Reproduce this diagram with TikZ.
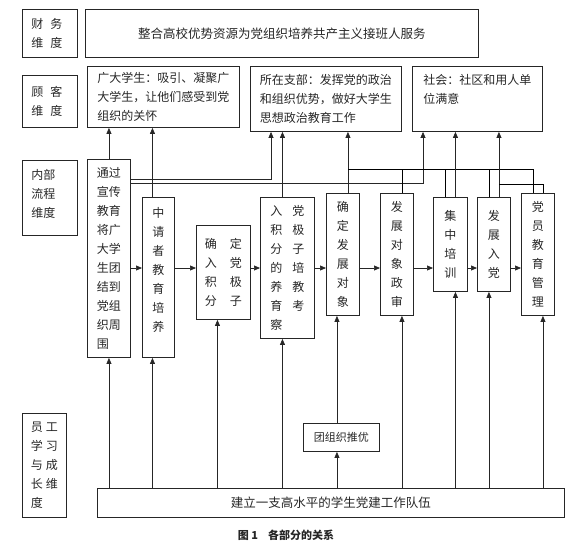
\documentclass[tikz,border=0pt]{standalone}
\usepackage{fontspec}
\setmainfont{Noto Sans CJK SC}
\usetikzlibrary{positioning,arrows.meta}

\begin{document}
\begin{tikzpicture}[
    x=1pt, y=-1pt,
    font=\fontsize{12}{19}\selectfont,
    box/.style={draw=black!85, line width=0.9pt, inner sep=0pt, align=center, text=black!85},
    dimbox/.style={box, align=left, inner xsep=9pt},
    line/.style={-{Triangle[length=6pt,width=5pt]}, line width=0.7pt, draw=black!85}
  ]
  \useasboundingbox (0,0) rectangle (585,549);

  % left column: the four dimensions
  \node[dimbox, anchor=north west, text width=37, minimum height=48] (caiwu) at (22,9) {财\hspace{7pt}务\\维\hspace{7pt}度};
  \node[dimbox, anchor=north west, text width=37, minimum height=52] (guke) at (22,75) {顾\hspace{7pt}客\\维\hspace{7pt}度};
  \node[dimbox, anchor=north west, text width=37, minimum height=75, text depth=47] (neibu) at (22,160) {内部\\流程\\维度};
  \node[dimbox, anchor=north west, text width=27, inner xsep=8.5pt, minimum height=104] (yuangong) at (22,413) {员\hspace{3pt}工\\学\hspace{3pt}习\\与\hspace{3pt}成\\长\hspace{3pt}维\\度};

  % finance and customers
  \node[box, anchor=north west, minimum width=393, minimum height=48, font=\fontsize{12.5}{19}\selectfont] (mubiao) at (85,9) {整合高校优势资源为党组织培养共产主义接班人服务};
  \node[box, align=left, anchor=north west, minimum width=152, minimum height=61] (xuesheng) at (87,66) {广大学生：吸引、凝聚广\\大学生，让他们感受到党\\组织的关怀};
  \node[box, align=left, anchor=north west, minimum width=151, minimum height=65] (zhibu) at (250,66) {所在支部：发挥党的政治\\和组织优势，做好大学生\\思想政治教育工作};
  \node[box, align=left, anchor=north west, minimum width=130, minimum height=65, text depth=19.5] (shehui) at (412,66) {社会：社区和用人单\\位满意};

  % internal process
  \node[box, align=left, anchor=north west, minimum width=43, minimum height=198] (xuanchuan) at (87,159) {通过\\宣传\\教育\\将广\\大学\\生团\\结到\\党组\\织周\\围};
  \node[box, anchor=north west, minimum width=32, minimum height=160, text depth=15.5] (shenqing) at (142,197) {中\\请\\者\\教\\育\\培\\养};
  \node[box, align=left, anchor=north west, minimum width=54, minimum height=94] (queding) at (196,225) {确\hspace{13pt}定\\入\hspace{13pt}党\\积\hspace{13pt}极\\分\hspace{13pt}子};
  \node[box, align=left, anchor=north west, minimum width=54, minimum height=141] (peiyang) at (260,197) {入\hspace{10pt}党\\积\hspace{10pt}极\\分\hspace{10pt}子\\的\hspace{10pt}培\\养\hspace{10pt}教\\育\hspace{10pt}考\\察};
  \node[box, anchor=north west, minimum width=33, minimum height=122] (fazhan) at (326,193) {确\\定\\发\\展\\对\\象};
  \node[box, anchor=north west, minimum width=33, minimum height=122] (zhengshen) at (380,193) {发\\展\\对\\象\\政\\审};
  \node[box, anchor=north west, minimum width=34, minimum height=94] (peixun) at (433,197) {集\\中\\培\\训};
  \node[box, anchor=north west, minimum width=33, minimum height=94] (rudang) at (477,197) {发\\展\\入\\党};
  \node[box, anchor=north west, minimum width=33, minimum height=122] (guanli) at (521,193) {党\\员\\教\\育\\管\\理};

  % learning and growth
  \node[box, anchor=north west, minimum width=76, minimum height=28, font=\fontsize{11}{13}\selectfont] (tuiyou) at (303,423) {团组织推优};
  \node[box, anchor=north west, minimum width=467, minimum height=29, font=\fontsize{12.5}{15}\selectfont] (duiwu) at (97,488) {建立一支高水平的学生党建工作队伍};

  \node[font=\fontsize{11}{13}\selectfont\bfseries, text=black!85] (tuzhu) at (286,535) {图 1\hspace{10pt}各部分的关系};

  \coordinate (mid) at (0,268);
  \coordinate (j1) at (271,179);
  \coordinate (j2) at (423,183);
  \coordinate (bus) at (0,169);
  \coordinate (j3) at (0,184);

  % process chain
  \draw[line] (xuanchuan.east |- mid) -- (shenqing.west |- mid);
  \draw[line] (shenqing.east |- mid) -- (queding.west |- mid);
  \draw[line] (queding.east |- mid) -- (peiyang.west |- mid);
  \draw[line] (peiyang.east |- mid) -- (fazhan.west |- mid);
  \draw[line] (fazhan.east |- mid) -- (zhengshen.west |- mid);
  \draw[line] (zhengshen.east |- mid) -- (peixun.west |- mid);
  \draw[line] (peixun.east |- mid) -- (rudang.west |- mid);
  \draw[line] (rudang.east |- mid) -- (guanli.west |- mid);

  % up to the customers
  \draw[line] (xuanchuan.north) -- (xuanchuan.north |- xuesheng.south);
  \draw[line] ([xshift=-6]shenqing.north) -- ([xshift=-6]shenqing.north |- xuesheng.south);
  \draw[line] (xuanchuan.east |- j1) -| (j1 |- zhibu.south);
  \draw[line] (xuanchuan.east |- j2) -| (j2 |- shehui.south);
  \draw[line] ([xshift=-5]peiyang.north) -- ([xshift=-5]peiyang.north |- zhibu.south);
  \draw[line] ([xshift=5]fazhan.north) -- ([xshift=5]fazhan.north |- zhibu.south);
  \draw ([xshift=-5]guanli.north) |- ([xshift=5]fazhan.north |- bus);
  \draw ([xshift=5]zhengshen.north) -- ([xshift=5]zhengshen.north |- bus);
  \draw ([xshift=-5]peixun.north) -- ([xshift=-5]peixun.north |- bus);
  \draw ([xshift=-5]rudang.north) -- ([xshift=-5]rudang.north |- bus);
  \draw[line] ([xshift=5]peixun.north) -- ([xshift=5]peixun.north |- shehui.south);
  \draw[line] ([xshift=5]rudang.north) -- ([xshift=5]rudang.north |- shehui.south);
  \draw ([xshift=5]guanli.north) |- ([xshift=5]rudang.north |- j3);

  % up from the team
  \draw[line] (xuanchuan.south |- duiwu.north) -- (xuanchuan.south);
  \draw[line] ([xshift=-6]shenqing.south |- duiwu.north) -- ([xshift=-6]shenqing.south);
  \draw[line] ([xshift=-6]queding.south |- duiwu.north) -- ([xshift=-6]queding.south);
  \draw[line] ([xshift=-5]peiyang.south |- duiwu.north) -- ([xshift=-5]peiyang.south);
  \draw[line] ([xshift=-6]fazhan.south |- duiwu.north) -- ([xshift=-6]fazhan.south |- tuiyou.south);
  \draw[line] ([xshift=-6]fazhan.south |- tuiyou.north) -- ([xshift=-6]fazhan.south);
  \draw[line] ([xshift=5]zhengshen.south |- duiwu.north) -- ([xshift=5]zhengshen.south);
  \draw[line] ([xshift=5]peixun.south |- duiwu.north) -- ([xshift=5]peixun.south);
  \draw[line] ([xshift=-5]rudang.south |- duiwu.north) -- ([xshift=-5]rudang.south);
  \draw[line] ([xshift=5]guanli.south |- duiwu.north) -- ([xshift=5]guanli.south);
\end{tikzpicture}
\end{document}
